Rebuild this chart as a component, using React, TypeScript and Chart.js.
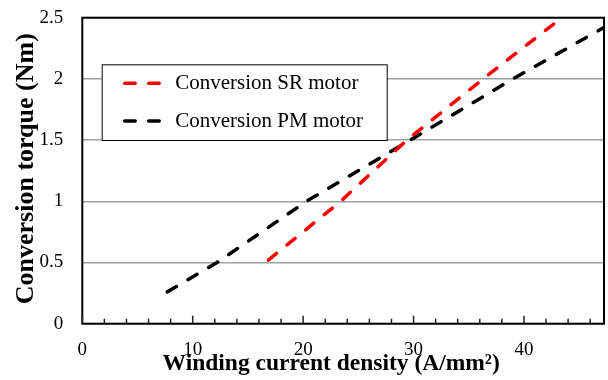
import React, { useEffect, useRef } from "react";
import { Chart, registerables } from "chart.js";

Chart.register(...registerables);

// ---- data ----
const srDensity = [16.85, 23.4, 29.4, 36.3, 43.0];
const srTorque = [0.52, 1.0, 1.5, 2.0, 2.47];
const pmDensity = [7.7, 12.2, 20.3, 29.7, 39.0, 47.25];
const pmTorque = [0.26, 0.5, 1.0, 1.5, 2.0, 2.42];

const seriesLabels = ["Conversion SR motor", "Conversion PM motor"];
const seriesColors = ["#ff0000", "#000000"];

const xTickValues = [0, 10, 20, 30, 40];
const xMinorStep = 2;
const xMax = 47.25;
const yTickValues = [0, 0.5, 1, 1.5, 2, 2.5];
const yMax = 2.5;

const xTitle = "Winding current density (A/mm²)";
const yTitle = "Conversion torque (Nm)";

const SERIF = "'Liberation Serif', 'Times New Roman', serif";
const DASH = [10.5, 13.5];

const decorPlugin = {
  id: "decor",
  afterDraw(chart: any) {
    const { ctx, chartArea: a, scales } = chart;
    const xs = scales.x;
    ctx.save();
    // frame
    ctx.strokeStyle = "#000";
    ctx.lineWidth = 2;
    ctx.strokeRect(a.left, a.top, a.right - a.left, a.bottom - a.top);
    // inward tick marks on x axis
    ctx.lineWidth = 1.5;
    ctx.strokeStyle = "#222";
    for (let v = 0; v <= xMax + 1e-9; v += xMinorStep) {
      const px = xs.getPixelForValue(v);
      const major = xTickValues.includes(v);
      ctx.beginPath();
      ctx.moveTo(px, a.bottom);
      ctx.lineTo(px, a.bottom - (major ? 8 : 5));
      ctx.stroke();
    }
    // legend
    const lx = a.left + 19.4;
    const ly = a.top + 46.6;
    const lw = 285;
    const lh = 75.7;
    ctx.fillStyle = "#fff";
    ctx.fillRect(lx, ly, lw, lh);
    ctx.strokeStyle = "#000";
    ctx.lineWidth = 1;
    ctx.strokeRect(lx + 0.5, ly + 0.5, lw, lh);
    const rows = [ly + 19, ly + 56.7];
    chart.data.datasets.forEach((ds: any, i: number) => {
      const y = rows[i];
      ctx.save();
      ctx.strokeStyle = ds.borderColor;
      ctx.lineWidth = 3.5;
      ctx.lineCap = "round";
      ctx.setLineDash(DASH);
      ctx.beginPath();
      ctx.moveTo(lx + 23, y);
      ctx.lineTo(lx + 62.5, y);
      ctx.stroke();
      ctx.restore();
      ctx.fillStyle = "#000";
      ctx.font = `21px ${SERIF}`;
      ctx.textAlign = "left";
      ctx.textBaseline = "middle";
      ctx.fillText(ds.label, lx + 73.5, y);
    });
    // axis titles
    ctx.fillStyle = "#000";
    ctx.textAlign = "center";
    ctx.textBaseline = "alphabetic";
    ctx.font = `bold 23.5px ${SERIF}`;
    ctx.fillText(xTitle, (a.left + a.right) / 2 - 12, a.bottom + 46.5);
    ctx.translate(33, (a.top + a.bottom) / 2 - 2);
    ctx.rotate(-Math.PI / 2);
    ctx.font = `bold 26px ${SERIF}`;
    ctx.fillText(yTitle, 0, 0);
    ctx.restore();
  },
};

export default function App() {
  const ref = useRef<HTMLCanvasElement | null>(null);
  useEffect(() => {
    if (!ref.current) return;
    const mk = (xs: number[], ys: number[]) => xs.map((x, i) => ({ x, y: ys[i] }));
    const chart = new Chart(ref.current, {
      type: "line",
      data: {
        datasets: [
          {
            label: seriesLabels[0],
            data: mk(srDensity, srTorque),
            borderColor: seriesColors[0],
            backgroundColor: seriesColors[0],
            borderWidth: 3.5,
            borderDash: DASH,
            borderCapStyle: "round",
            pointRadius: 0,
            tension: 0,
          },
          {
            label: seriesLabels[1],
            data: mk(pmDensity, pmTorque),
            borderColor: seriesColors[1],
            backgroundColor: seriesColors[1],
            borderWidth: 3.5,
            borderDash: DASH,
            borderCapStyle: "round",
            pointRadius: 0,
            tension: 0,
          },
        ],
      },
      options: {
        animation: false,
        responsive: false,
        layout: { padding: { left: 0, right: 4, top: 17.7, bottom: 0 } },
        plugins: { legend: { display: false }, tooltip: { enabled: false } },
        scales: {
          x: {
            type: "linear",
            min: 0,
            max: xMax,
            afterFit: (s: any) => {
              s.height = 56.3;
            },
            afterBuildTicks: (s: any) => {
              s.ticks = xTickValues.map((v) => ({ value: v }));
            },
            grid: { display: false, drawTicks: false },
            border: { display: false },
            ticks: {
              color: "#000",
              padding: 15,
              maxRotation: 0,
              font: { family: SERIF, size: 19 },
            },
          },
          y: {
            type: "linear",
            min: 0,
            max: yMax,
            afterFit: (s: any) => {
              s.width = 82.3;
            },
            afterBuildTicks: (s: any) => {
              s.ticks = yTickValues.map((v) => ({ value: v }));
            },
            grid: {
              color: "#a0a0a0",
              lineWidth: 1.5,
              drawTicks: true,
              tickLength: 19,
              tickColor: "rgba(0,0,0,0)",
            },
            border: { display: false },
            ticks: {
              color: "#000",
              padding: 0,
              font: { family: SERIF, size: 19 },
              callback: (v: any) => String(v),
            },
          },
        },
      },
      plugins: [decorPlugin],
    } as any);
    return () => chart.destroy();
  }, []);
  return (
    <div style={{ position: "fixed", left: 0, top: 0, width: 608, height: 380, background: "#fff" }}>
      <canvas ref={ref} width={608} height={380} />
    </div>
  );
}
